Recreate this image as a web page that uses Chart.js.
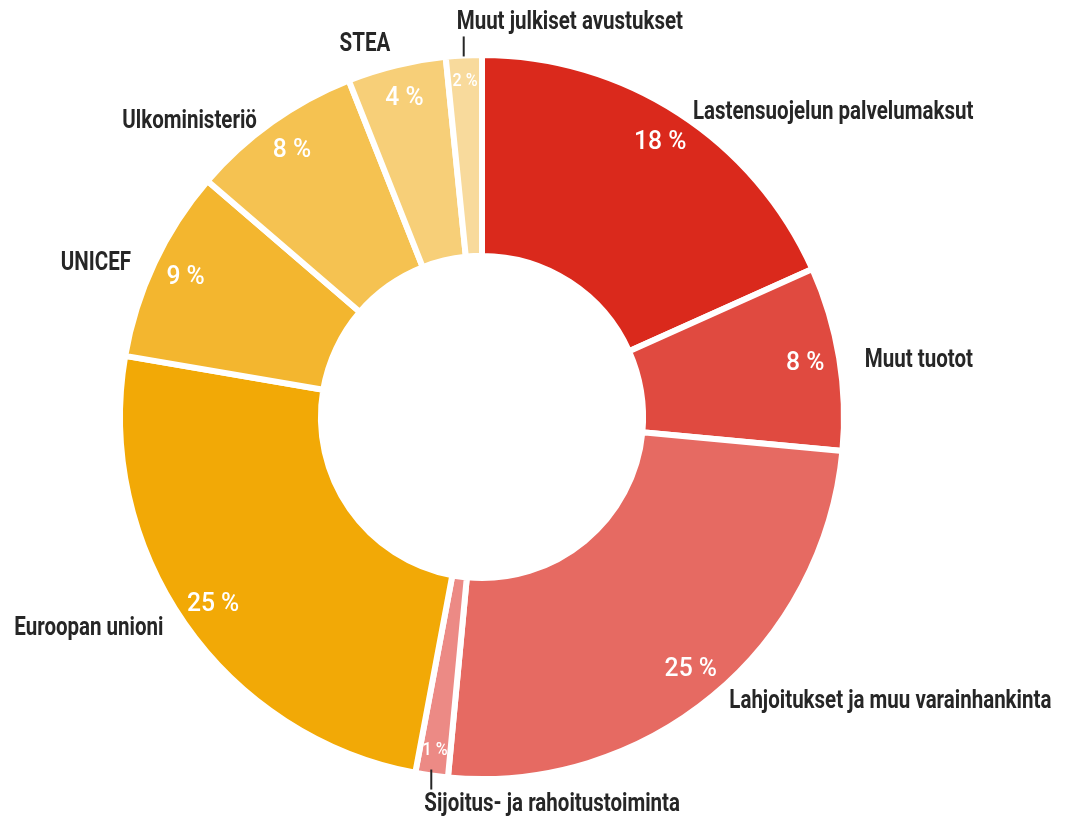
<!DOCTYPE html>
<html>
<head>
<meta charset="utf-8">
<script src="https://cdn.jsdelivr.net/npm/chart.js@4"></script>
<style>
  html, body { margin: 0; padding: 0; background: #fff; }
  #wrap { width: 1077px; height: 821px; position: relative; }
</style>
</head>
<body>
<div id="wrap"><canvas id="chart"></canvas></div>
<script>
// slices, clockwise from 12 o'clock (shares in %)
const labels = [
    'Lastensuojelun palvelumaksut',
    'Muut tuotot',
    'Lahjoitukset ja muu varainhankinta',
    'Sijoitus- ja rahoitustoiminta',
    'Euroopan unioni',
    'UNICEF',
    'Ulkoministeriö',
    'STEA',
    'Muut julkiset avustukset'
];
const shares = [18.3, 8.2, 25.0, 1.45, 24.75, 8.6, 7.7, 4.4, 1.6];
const colors = ['#DA291C', '#E04A40', '#E66A62', '#EC8A85', '#F2A906', '#F3B62F', '#F5C251', '#F7CF78', '#F8DA9C'];

const FONT = "Roboto, 'Noto Sans', sans-serif";
const TEXT_COLOR = '#262626';
const NARROW = 0.82; // squeeze text to look like a condensed face

// text drawn with a horizontal squeeze
function narrowText(ctx, text, x, y, align, squeeze) {
    ctx.save();
    ctx.translate(x, y);
    ctx.scale(squeeze, 1);
    ctx.textAlign = align;
    ctx.fillText(text, 0, 0);
    ctx.restore();
}

// draws the % inside each slice and the category name outside
const sliceLabels = {
    id: 'sliceLabels',
    afterDatasetsDraw(chart) {
        const ctx = chart.ctx;
        const arcs = chart.getDatasetMeta(0).data;
        const values = chart.data.datasets[0].data;

        arcs.forEach((arc, i) => {
            const { x, y, startAngle, endAngle, outerRadius } = arc.getProps(['x', 'y', 'startAngle', 'endAngle', 'outerRadius'], true);
            const mid = (startAngle + endAngle) / 2;
            const small = values[i] < 2;
            const cos = Math.cos(mid), sin = Math.sin(mid);

            // percentage inside
            const rIn = outerRadius * (small ? 0.93 : 0.905);
            ctx.save();
            ctx.fillStyle = '#fff';
            ctx.font = (small ? '500 19px ' : '500 26px ') + FONT;
            ctx.textBaseline = 'middle';
            narrowText(ctx, Math.round(values[i]) + ' %', x + rIn * cos, y + rIn * sin, 'center', small ? 0.85 : 0.95);
            ctx.restore();

            // name outside
            ctx.save();
            ctx.fillStyle = TEXT_COLOR;
            ctx.strokeStyle = TEXT_COLOR;
            ctx.font = 'bold 25px ' + FONT;
            const align = cos >= 0 ? 'left' : 'right';
            if (small) {
                const tx = x + (outerRadius + 2) * cos;
                const top = sin < 0;
                const y0 = y + (outerRadius + (top ? -1 : -6)) * sin;
                const y1 = top ? y0 - 20 : y0 + 20;
                ctx.lineWidth = 2;
                ctx.beginPath();
                ctx.moveTo(tx, y0);
                ctx.lineTo(tx, y1);
                ctx.stroke();
                ctx.textBaseline = top ? 'bottom' : 'top';
                narrowText(ctx, chart.data.labels[i], tx - 7, top ? y1 - 1 : y1 + 3, 'left', NARROW);
            } else if (Math.abs(cos) < 0.3) {
                // near the top: sit the text on the anchor point
                ctx.textBaseline = 'bottom';
                narrowText(ctx, chart.data.labels[i], x + (outerRadius + 26) * cos, y + (outerRadius + 8) * sin, align, NARROW);
            } else {
                const lx = x + (outerRadius + 26) * cos;
                const ly = y + (outerRadius + 4) * sin + 3;
                ctx.textBaseline = 'middle';
                narrowText(ctx, chart.data.labels[i], lx, ly, align, NARROW);
            }
            ctx.restore();
        });
    }
};

new Chart(document.getElementById('chart'), {
    type: 'doughnut',
    data: {
        labels: labels,
        datasets: [{
            data: shares,
            backgroundColor: colors,
            borderColor: '#fff',
            borderWidth: 6,
            borderJoinStyle: 'miter'
        }]
    },
    options: {
        responsive: true,
        maintainAspectRatio: false,
        animation: false,
        cutout: '44.5%',
        layout: { padding: { top: 52, bottom: 39, left: 0, right: 113 } },
        plugins: {
            legend: { display: false },
            tooltip: { enabled: false }
        }
    },
    plugins: [sliceLabels]
});
</script>
</body>
</html>
